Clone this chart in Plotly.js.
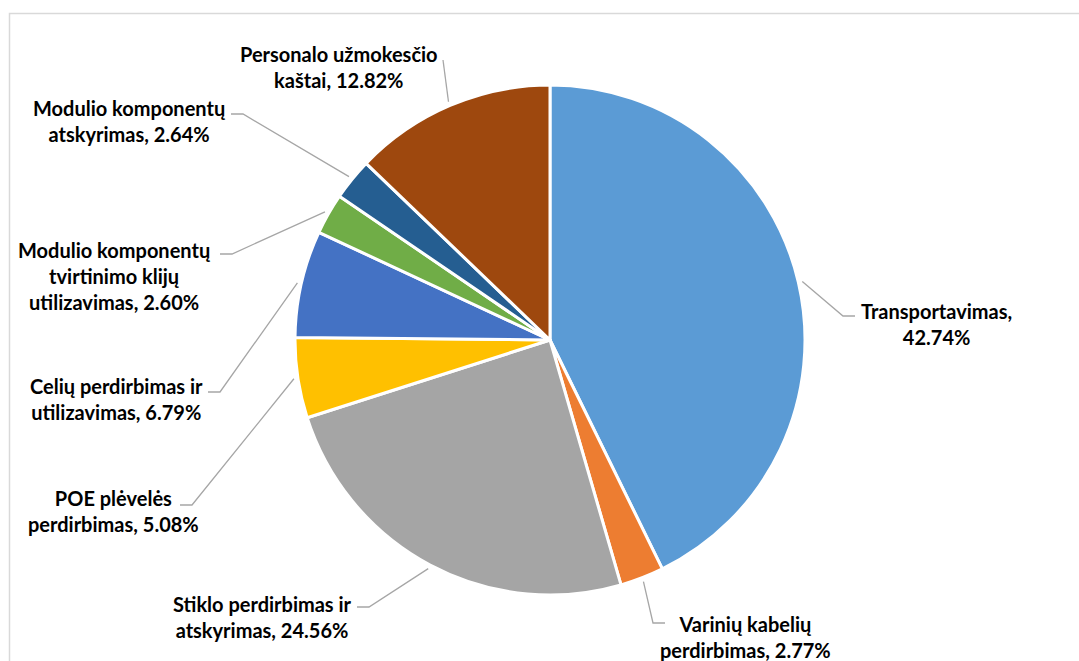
<!DOCTYPE html>
<html><head><meta charset="utf-8">
<script src="https://cdn.plot.ly/plotly-3.0.1.min.js"></script>
<style>html,body{margin:0;padding:0;background:#fff}#chart{width:1079px;height:661px}</style>
</head><body><div id="chart"></div>
<script>
// ---- data ----
const categories = ["Transportavimas", "Varinių kabelių perdirbimas", "Stiklo perdirbimas ir atskyrimas", "POE plėvelės perdirbimas", "Celių perdirbimas ir utilizavimas", "Modulio komponentų tvirtinimo klijų utilizavimas", "Modulio komponentų atskyrimas", "Personalo užmokesčio kaštai"];
const values = [42.74, 2.77, 24.56, 5.08, 6.79, 2.60, 2.64, 12.82];
const labelPrefix = ["Transportavimas,<br>", "Varinių kabelių<br>perdirbimas, ", "Stiklo perdirbimas ir<br>atskyrimas, ", "POE plėvelės<br>perdirbimas, ", "Celių perdirbimas ir<br>utilizavimas, ", "Modulio komponentų<br>tvirtinimo klijų<br>utilizavimas, ", "Modulio komponentų<br>atskyrimas, ", "Personalo užmokesčio<br>kaštai, "];
const colors = ["#5B9BD5", "#ED7D31", "#A5A5A5", "#FFC000", "#4472C4", "#70AD47", "#255E91", "#9E480E"];

// ---- layout (pixels) ----
const W = 1079, H = 661;
const CX = 550, CY = 340, R = 255;
// label text centre, elbow point, end of horizontal stub
const labelPos = [
  {tx: 936, ty: 324, ex: 843, ey: 316, hx: 855, hy: 316},
  {tx: 745, ty: 637, ex: 653, ey: 623, hx: 665, hy: 623},
  {tx: 262, ty: 617, ex: 369, ey: 607, hx: 357, hy: 607},
  {tx: 113, ty: 511, ex: 192, ey: 505, hx: 180, hy: 505},
  {tx: 116, ty: 399, ex: 220, ey: 392, hx: 208, hy: 392},
  {tx: 114, ty: 276, ex: 232, ey: 254, hx: 220, hy: 254},
  {tx: 129, ty: 121, ex: 243, ey: 114, hx: 231, hy: 114},
  {tx: 339, ty: 67, ex: 443, ey: 60, hx: 443, hy: 60}
];

const px = x => x / W;
const py = y => 1 - y / H;

const total = values.reduce((a, b) => a + b, 0);
let cum = 0;
const shapes = [];
const annotations = [];
values.forEach((v, i) => {
  const mid = (cum + v / 2) / total * 2 * Math.PI;
  cum += v;
  const sx = CX + (R + 4) * Math.sin(mid);
  const sy = CY - (R + 4) * Math.cos(mid);
  const p = labelPos[i];
  shapes.push({
    type: 'path', xref: 'paper', yref: 'paper',
    path: `M ${px(sx)},${py(sy)} L ${px(p.ex)},${py(p.ey)} L ${px(p.hx)},${py(p.hy)}`,
    line: {color: '#A6A6A6', width: 1.3}
  });
  annotations.push({
    xref: 'paper', yref: 'paper', x: px(p.tx), y: py(p.ty),
    xanchor: 'center', yanchor: 'middle', align: 'center', showarrow: false,
    text: '<b>' + labelPrefix[i] + v.toFixed(2) + '%</b>',
    font: {family: 'Lato, sans-serif', size: 20, color: '#000'}
  });
});
// chart frame
shapes.push({type: 'rect', xref: 'paper', yref: 'paper', x0: px(9.5), x1: px(1085), y0: py(700), y1: py(13.5),
  line: {color: '#D9D9D9', width: 1.5}});

const trace = {
  type: 'pie', labels: categories, values: values, sort: false, direction: 'clockwise', rotation: 0,
  marker: {colors: colors, line: {color: '#FFFFFF', width: 3}},
  textinfo: 'none', hoverinfo: 'label+percent', showlegend: false,
  domain: {x: [px(CX - R), px(CX + R)], y: [py(CY + R), py(CY - R)]}
};

Plotly.newPlot('chart', [trace], {
  width: W, height: H, margin: {l: 0, r: 0, t: 0, b: 0},
  paper_bgcolor: '#fff', showlegend: false,
  shapes: shapes, annotations: annotations
}, {displayModeBar: false, staticPlot: true});
</script>
</body></html>
